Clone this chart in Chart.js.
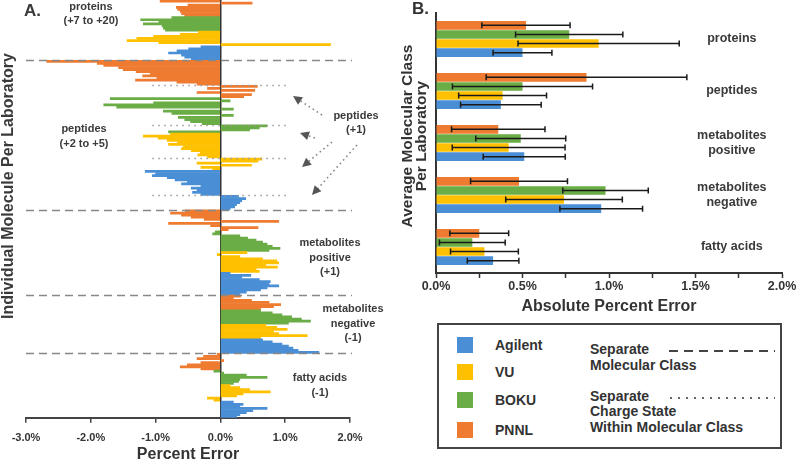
<!DOCTYPE html>
<html>
<head>
<meta charset="utf-8">
<script src="https://cdn.jsdelivr.net/npm/chart.js@4.4.0/dist/chart.umd.min.js"></script>
<style>
  body { margin: 0; width: 800px; height: 461px; background: #fff; position: relative; overflow: hidden;
         font-family: 'Liberation Sans', Arial, sans-serif; color: #333; }
  #chartA { position: absolute; left: 0; top: 0; }
  #chartB { position: absolute; left: 400px; top: 0; }
  #legendBox { position: absolute; left: 437px; top: 323px; width: 341px; height: 122px; border: 2px solid #444; }
  #legendBox .sw { position: absolute; left: 18px; width: 16px; height: 16px; }
  #legendBox .lbl { position: absolute; font-weight: bold; font-size: 14px; line-height: 16px; white-space: nowrap; }
  #legendBox svg { position: absolute; left: 0; top: 0; }
</style>
</head>
<body>
<canvas id="chartA" width="400" height="463"></canvas>
<canvas id="chartB" width="400" height="318"></canvas>
<div id="legendBox"></div>
<script>
// lab colours
const labColors = { Agilent: '#4a8fd5', VU: '#ffc000', BOKU: '#6aac45', PNNL: '#ee7b30' };
const legendLabs = ['Agilent', 'VU', 'BOKU', 'PNNL'];

// ---- panel A: percent error per molecule (top to bottom) ----
const proteinsPNNL = [-0.93, 0.49, -0.5, -0.68, -0.66, -0.62, -0.6, -0.55];
const proteinsBOKU = [-0.75, -1.23, -0.95, -1.19, -0.9, -0.88, -0.85];
const proteinsVU = [-0.34, -0.62, -1.03, -1.29, -1.44, -0.95, 1.7];
const proteinsAgilent = [-0.3, -0.49, -0.67, -0.8, -0.6, -0.55, -0.45];

const peptidesPNNL = [-2.68, -1.9, -1.8, -1.57, -1.5, -1.3, -1.08, -1.2, -0.98, -1.31, -0.67, -0.36];
const peptidesPNNL1 = [0.57, -0.2, 0.53, -0.36, 0.48, 0.36];
const peptidesBOKU = [-1.7, 0.15, -1.03, -1.8, -1.6, 0.2, -0.88, -0.75, 0.2, -0.65, -0.55, -0.46, -0.28];
const peptidesBOKU1 = [0.72, 0.6, 0.45, -0.8];
const peptidesVU = [-0.77, -1.19, -0.96, -0.82, -0.66, -0.8, -0.57, -0.6, -0.45, -0.31, -0.35, -0.2];
const peptidesVU1 = [0.64, 0.58, -0.36, 0.48, -0.3, -0.12];
const peptidesAgilent = [-1.16, -1.0, -1.05, -0.82, -0.7, -0.51, -0.6, -0.3, -0.45, -0.36, -0.43, -0.3];
const peptidesAgilent1 = [0.28, 0.39, 0.33, 0.3, 0.25, 0.22, 0.15];

const metPosPNNL = [-0.54, -0.77, -0.6, -0.45, -0.25, 0.9, -0.8, -0.15, 0.58, 0.12];
const metPosBOKU = [-0.08, -0.12, 0.3, 0.42, 0.55, 0.65, 0.72, 0.8, 0.92, 0.75];
const metPosVU = [0.41, -0.05, 0.3, 0.65, 0.87, 0.9, 0.7, 0.88, 0.55, 0.6];
const metPosAgilent = [0.15, 0.47, 0.33, 0.6, 0.77, 0.75, 0.9, 0.72, 0.62, 0.4, 0.3];

const metNegPNNL = [0.31, 0.2, 0.48, 0.75, 0.93, 0.82, 0.62];
const metNegBOKU = [0.62, 0.8, 0.95, 1.1, 1.25, 1.39, 1.05];
const metNegVU = [0.7, 0.87, 1.03, 0.82, 0.9, 1.34, 0.62];
const metNegAgilent = [0.65, 0.8, 0.95, 1.05, 1.12, 1.2, 1.52];

const fattyPNNL = [-0.05, -0.26, -0.36, 0.05, -0.3, -0.51, -0.62, -0.3];
const fattyBOKU = [-0.1, 0.05, 0.4, 0.72, 0.3, 0.28, 0.2];
const fattyVU = [0.15, 0.3, 0.45, 0.77, 0.35, 0.25, -0.2, -0.1];
const fattyAgilent = [0.2, 0.35, 0.3, 0.72, 0.5, 0.4, 0.3, 0.25];

const ticksA = [-3, -2, -1, 0, 1, 2];

// ---- panel B: average absolute percent error per class ----
const classesB = ['proteins', 'peptides', ['metabolites', 'positive'], ['metabolites', 'negative'], 'fatty acids'];
const meanPNNL = [0.52, 0.87, 0.36, 0.48, 0.25];
const sdPNNL = [0.255, 0.58, 0.27, 0.28, 0.17];
const meanBOKU = [0.77, 0.5, 0.49, 0.98, 0.21];
const sdBOKU = [0.31, 0.405, 0.26, 0.247, 0.19];
const meanVU = [0.94, 0.385, 0.42, 0.74, 0.28];
const sdVU = [0.466, 0.254, 0.326, 0.337, 0.196];
const meanAgilent = [0.5, 0.375, 0.51, 0.955, 0.33];
const sdAgilent = [0.17, 0.233, 0.237, 0.239, 0.149];

Chart.defaults.font.family = "'Liberation Sans', Arial, sans-serif";
Chart.defaults.font.weight = 'bold';
Chart.defaults.color = '#333';

// rows of panel A, in drawing order
const rowsA = [
    { klass: 'proteins', lab: 'PNNL', values: proteinsPNNL },
    { klass: 'proteins', lab: 'BOKU', values: proteinsBOKU },
    { klass: 'proteins', lab: 'VU', values: proteinsVU },
    { klass: 'proteins', lab: 'Agilent', values: proteinsAgilent },
    { klass: 'peptides', lab: 'PNNL', values: peptidesPNNL },
    { klass: 'peptides', lab: 'PNNL', values: peptidesPNNL1, plusOne: true },
    { klass: 'peptides', lab: 'BOKU', values: peptidesBOKU },
    { klass: 'peptides', lab: 'BOKU', values: peptidesBOKU1, plusOne: true },
    { klass: 'peptides', lab: 'VU', values: peptidesVU },
    { klass: 'peptides', lab: 'VU', values: peptidesVU1, plusOne: true },
    { klass: 'peptides', lab: 'Agilent', values: peptidesAgilent },
    { klass: 'peptides', lab: 'Agilent', values: peptidesAgilent1, plusOne: true },
    { klass: 'metPos', lab: 'PNNL', values: metPosPNNL },
    { klass: 'metPos', lab: 'BOKU', values: metPosBOKU },
    { klass: 'metPos', lab: 'VU', values: metPosVU },
    { klass: 'metPos', lab: 'Agilent', values: metPosAgilent },
    { klass: 'metNeg', lab: 'PNNL', values: metNegPNNL },
    { klass: 'metNeg', lab: 'BOKU', values: metNegBOKU },
    { klass: 'metNeg', lab: 'VU', values: metNegVU },
    { klass: 'metNeg', lab: 'Agilent', values: metNegAgilent },
    { klass: 'fatty', lab: 'PNNL', values: fattyPNNL },
    { klass: 'fatty', lab: 'BOKU', values: fattyBOKU },
    { klass: 'fatty', lab: 'VU', values: fattyVU },
    { klass: 'fatty', lab: 'Agilent', values: fattyAgilent }
];

const valuesA = [], colorsA = [], labelsA = [], dashedAt = [], dottedAt = [];
let prevClass = null;
rowsA.forEach(r => {
    if (prevClass && r.klass !== prevClass) dashedAt.push(valuesA.length);
    if (r.plusOne) dottedAt.push(valuesA.length);
    prevClass = r.klass;
    r.values.forEach(v => {
        labelsA.push(String(valuesA.length));
        valuesA.push(v);
        colorsA.push(labColors[r.lab]);
    });
});

function drawArrow(ctx, x1, y1, x2, y2) {
    const ang = Math.atan2(y2 - y1, x2 - x1);
    ctx.save();
    ctx.strokeStyle = '#888';
    ctx.lineWidth = 1.6;
    ctx.setLineDash([1.6, 3.2]);
    ctx.beginPath();
    ctx.moveTo(x1, y1);
    ctx.lineTo(x2 - 6 * Math.cos(ang), y2 - 6 * Math.sin(ang));
    ctx.stroke();
    ctx.setLineDash([]);
    ctx.fillStyle = '#555';
    ctx.beginPath();
    ctx.moveTo(x2, y2);
    ctx.lineTo(x2 - 9 * Math.cos(ang) + 4.5 * Math.sin(ang), y2 - 9 * Math.sin(ang) - 4.5 * Math.cos(ang));
    ctx.lineTo(x2 - 9 * Math.cos(ang) - 4.5 * Math.sin(ang), y2 - 9 * Math.sin(ang) + 4.5 * Math.cos(ang));
    ctx.closePath();
    ctx.fill();
    ctx.restore();
}

function centerText(ctx, lines, x, y, lh) {
    lines.forEach((t, i) => ctx.fillText(t, x, y + i * lh));
}

// arrows from the "peptides (+1)" note: [tailX, tailY, headX, headY]
const arrowsA = [[322, 115, 293, 96], [315, 138, 300, 133], [332, 142, 302, 167], [357, 145, 312, 195]];

const panelAExtras = {
    id: 'panelAExtras',
    afterDatasetsDraw(chart) {
        const ctx = chart.ctx;
        const xs = chart.scales.x, ys = chart.scales.y;
        const between = i => (ys.getPixelForValue(i - 1) + ys.getPixelForValue(i)) / 2;
        ctx.save();
        // molecular class separators
        ctx.strokeStyle = '#888';
        ctx.lineWidth = 1.5;
        ctx.setLineDash([8, 5]);
        dashedAt.forEach(i => {
            const y = Math.round(between(i)) + 0.5;
            ctx.beginPath();
            ctx.moveTo(xs.getPixelForValue(-3), y);
            ctx.lineTo(xs.getPixelForValue(2) + 2, y);
            ctx.stroke();
        });
        // charge state separators
        ctx.strokeStyle = '#999';
        ctx.setLineDash([1.5, 4.5]);
        dottedAt.forEach(i => {
            const y = Math.round(between(i)) + 0.5;
            ctx.beginPath();
            ctx.moveTo(xs.getPixelForValue(-1.05), y);
            ctx.lineTo(xs.getPixelForValue(1.04), y);
            ctx.stroke();
        });
        ctx.setLineDash([]);

        arrowsA.forEach(a => drawArrow(ctx, a[0], a[1], a[2], a[3]));

        // class annotations
        ctx.fillStyle = '#3a3a3a';
        ctx.font = "bold 11px 'Liberation Sans', Arial, sans-serif";
        ctx.textAlign = 'center';
        ctx.textBaseline = 'middle';
        centerText(ctx, ['proteins', '(+7 to +20)'], 91, 7, 14);
        centerText(ctx, ['peptides', '(+2 to +5)'], 84, 129, 15);
        centerText(ctx, ['peptides', '(+1)'], 356, 116, 14);
        centerText(ctx, ['metabolites', 'positive', '(+1)'], 330, 243, 14.5);
        centerText(ctx, ['metabolites', 'negative', '(-1)'], 353, 309, 14.5);
        centerText(ctx, ['fatty acids', '(-1)'], 320, 378, 15);

        // axis title and panel letter
        ctx.font = "bold 16px 'Liberation Sans', Arial, sans-serif";
        ctx.save();
        ctx.translate(9, 186);
        ctx.rotate(-Math.PI / 2);
        ctx.fillText('Individual Molecule Per Laboratory', 0, 0);
        ctx.restore();
        ctx.font = "bold 17px 'Liberation Sans', Arial, sans-serif";
        ctx.textAlign = 'left';
        ctx.fillText('A.', 24, 11);
        ctx.restore();
    }
};

new Chart(document.getElementById('chartA'), {
    type: 'bar',
    data: {
        labels: labelsA,
        datasets: [{
            data: valuesA,
            backgroundColor: colorsA,
            borderWidth: 0,
            barPercentage: 1,
            categoryPercentage: 1
        }]
    },
    options: {
        indexAxis: 'y',
        responsive: false,
        animation: false,
        layout: { padding: { left: 26, right: 50, top: 0, bottom: 0 } },
        plugins: { legend: { display: false }, tooltip: { enabled: false } },
        scales: {
            x: {
                min: -3,
                max: 2,
                afterBuildTicks: axis => { axis.ticks = ticksA.map(v => ({ value: v })); },
                ticks: {
                    font: { size: 11, weight: 'bold' },
                    color: '#333',
                    padding: 9,
                    callback: v => v.toFixed(1) + '%'
                },
                grid: {
                    drawOnChartArea: true,
                    color: c => (c.tick && c.tick.value === 0) ? '#333' : 'rgba(0,0,0,0)',
                    lineWidth: 1.5,
                    tickColor: '#444',
                    tickLength: 5,
                    tickWidth: 1.5
                },
                border: { color: '#444', width: 2 },
                title: {
                    display: true,
                    text: 'Percent Error',
                    font: { size: 16, weight: 'bold', lineHeight: 1 },
                    color: '#333',
                    padding: { top: -7, bottom: 0 }
                }
            },
            y: { display: false }
        }
    },
    plugins: [panelAExtras]
});

// ---- panel B ----
const datasetsB = [
    { lab: 'PNNL', mean: meanPNNL, sd: sdPNNL },
    { lab: 'BOKU', mean: meanBOKU, sd: sdBOKU },
    { lab: 'VU', mean: meanVU, sd: sdVU },
    { lab: 'Agilent', mean: meanAgilent, sd: sdAgilent }
];

const panelBExtras = {
    id: 'panelBExtras',
    afterDatasetsDraw(chart) {
        const ctx = chart.ctx;
        const xs = chart.scales.x, ys = chart.scales.y;
        ctx.save();
        // error bars
        ctx.strokeStyle = '#1a1a1a';
        ctx.lineWidth = 1.5;
        datasetsB.forEach((d, di) => {
            chart.getDatasetMeta(di).data.forEach((bar, i) => {
                const lo = xs.getPixelForValue(d.mean[i] - d.sd[i]);
                const hi = xs.getPixelForValue(d.mean[i] + d.sd[i]);
                ctx.beginPath();
                ctx.moveTo(lo, bar.y); ctx.lineTo(hi, bar.y);
                ctx.moveTo(lo, bar.y - 3); ctx.lineTo(lo, bar.y + 3);
                ctx.moveTo(hi, bar.y - 3); ctx.lineTo(hi, bar.y + 3);
                ctx.stroke();
            });
        });
        // class labels inside the plot, right side
        ctx.fillStyle = '#3a3a3a';
        ctx.font = "bold 12.5px 'Liberation Sans', Arial, sans-serif";
        ctx.textAlign = 'center';
        ctx.textBaseline = 'middle';
        classesB.forEach((lab, i) => {
            const lines = Array.isArray(lab) ? lab : [lab];
            const y0 = ys.getPixelForValue(i) - (lines.length - 1) * 7.5;
            centerText(ctx, lines, xs.getPixelForValue(1.71), y0, 15);
        });
        // y title and panel letter
        ctx.fillStyle = '#333';
        ctx.font = "bold 15.5px 'Liberation Sans', Arial, sans-serif";
        ctx.save();
        ctx.translate(8, 136);
        ctx.rotate(-Math.PI / 2);
        ctx.fillText('Average Molecular Class', 0, 0);
        ctx.fillText('Per Laboratory', 0, 14);
        ctx.restore();
        ctx.font = "bold 17px 'Liberation Sans', Arial, sans-serif";
        ctx.textAlign = 'left';
        ctx.fillText('B.', 12, 9);
        ctx.restore();
    }
};

new Chart(document.getElementById('chartB'), {
    type: 'bar',
    data: {
        labels: classesB,
        datasets: datasetsB.map(d => ({
            label: d.lab,
            data: d.mean,
            backgroundColor: labColors[d.lab],
            borderWidth: 0,
            barPercentage: 0.95,
            categoryPercentage: 0.7
        }))
    },
    options: {
        indexAxis: 'y',
        responsive: false,
        animation: false,
        layout: { padding: { left: 36, right: 18, top: 13, bottom: 3 } },
        plugins: { legend: { display: false }, tooltip: { enabled: false } },
        scales: {
            x: {
                min: 0,
                max: 2,
                ticks: {
                    stepSize: 0.25,
                    autoSkip: false,
                    maxRotation: 0,
                    font: { size: 12.5, weight: 'bold' },
                    color: '#333',
                    padding: 1,
                    callback: v => Math.abs(v * 2 - Math.round(v * 2)) < 1e-9 ? v.toFixed(1) + '%' : ''
                },
                grid: { drawOnChartArea: false, tickLength: 5, tickColor: '#333', tickWidth: 1.5 },
                border: { color: '#333', width: 2 },
                title: {
                    display: true,
                    text: 'Absolute Percent Error',
                    font: { size: 16, weight: 'bold', lineHeight: 1 },
                    color: '#333',
                    padding: { top: 4, bottom: 0 }
                }
            },
            y: {
                ticks: { display: false },
                grid: { display: false, drawTicks: false },
                border: { display: true, color: '#333', width: 2 }
            }
        }
    },
    plugins: [panelBExtras]
});

// ---- legend box ----
const box = document.getElementById('legendBox');
const swTops = [12, 39, 67, 97];
legendLabs.forEach((lab, i) => {
    const sw = document.createElement('div');
    sw.className = 'sw';
    sw.style.top = swTops[i] + 'px';
    sw.style.background = labColors[lab];
    box.appendChild(sw);
    const t = document.createElement('div');
    t.className = 'lbl';
    t.style.left = '56px';
    t.style.top = (swTops[i]) + 'px';
    t.textContent = lab;
    box.appendChild(t);
});
[['Separate', 16], ['Molecular Class', 32], ['Separate', 63], ['Charge State', 78], ['Within Molecular Class', 94]].forEach(([txt, top]) => {
    const t = document.createElement('div');
    t.className = 'lbl';
    t.style.left = '151px';
    t.style.top = top + 'px';
    t.textContent = txt;
    box.appendChild(t);
});
box.insertAdjacentHTML('beforeend',
    '<svg width="341" height="122">' +
    '<line x1="230" y1="26" x2="336" y2="26" stroke="#444" stroke-width="2" stroke-dasharray="9,6"/>' +
    '<line x1="231" y1="73" x2="336" y2="73" stroke="#666" stroke-width="2" stroke-dasharray="2,6"/>' +
    '</svg>');
</script>
</body>
</html>
